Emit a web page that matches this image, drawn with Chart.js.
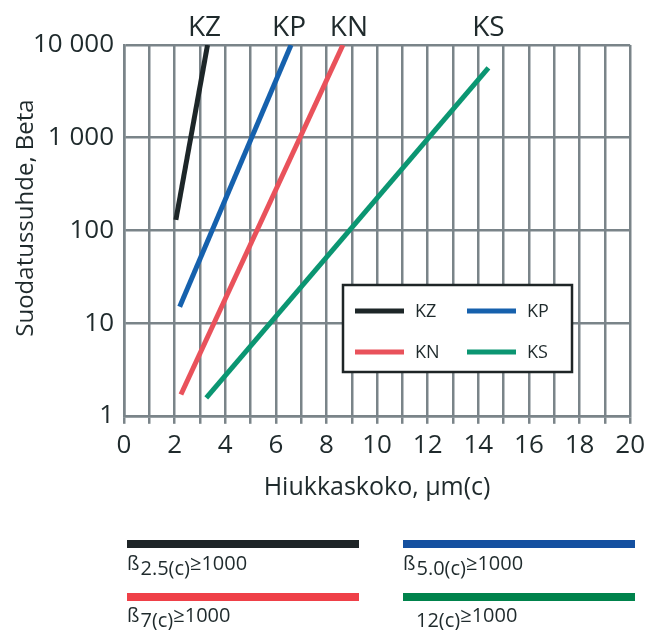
<!DOCTYPE html>
<html>
<head>
<meta charset="utf-8">
<script src="https://cdn.jsdelivr.net/npm/chart.js@4/dist/chart.umd.min.js"></script>
<style>
  html, body { margin: 0; padding: 0; background: #ffffff; }
  #wrap { width: 651px; height: 630px; position: relative; }
</style>
</head>
<body>
<div id="wrap"><canvas id="c" width="651" height="630"></canvas></div>
<script>
// Filter grades: beta ratio versus particle size (end points of each straight line on log scale)
const seriesNames = ['KZ', 'KP', 'KN', 'KS'];
const sizeKZ = [2.05, 3.3];
const betaKZ = [130, 10000];
const sizeKP = [2.2, 6.6];
const betaKP = [15, 10000];
const sizeKN = [2.25, 8.65];
const betaKN = [1.7, 10000];
const sizeKS = [3.25, 14.4];
const betaKS = [1.56, 5650];

const lineColors = ['#1d2628', '#1661ad', '#e9525b', '#0b9672'];
const keyColors = ['#1e2527', '#1450a0', '#ef4048', '#00834c'];

const yTickValues = [1, 10, 100, 1000, 10000];
const yTickLabels = ['1', '10', '100', '1 000', '10 000'];
const xMin = 0, xMax = 20;

const xTitle = 'Hiukkaskoko, µm(c)';
const yTitle = 'Suodatussuhde, Beta';

// Rating key shown under the chart: [prefix, subscript, suffix]
const ratingText = [
  ['ß', '2.5(c)', '≥1000'],
  ['ß', '5.0(c)', '≥1000'],
  ['ß', '7(c)', '≥1000'],
  ['', '12(c)', '≥1000']
];

const FONT = '"Open Sans", "Noto Sans", sans-serif';
const TEXT = '#1f2a2c';
const GRID = '#7a8489';

const sizes = [sizeKZ, sizeKP, sizeKN, sizeKS];
const betas = [betaKZ, betaKP, betaKN, betaKS];

const datasets = seriesNames.map((name, i) => ({
  label: name,
  data: sizes[i].map((x, j) => ({ x: x, y: betas[i][j] })),
  showLine: true,
  borderColor: lineColors[i],
  backgroundColor: lineColors[i],
  borderWidth: 5,
  borderCapStyle: 'butt',
  pointRadius: 0,
  pointHoverRadius: 0,
  fill: false
}));

// small horizontal nudges for the series names written above the lines
const nameNudge = [-3, -2, 6, 0];

// Series names above the upper end of each line, the in-plot legend box, the y title and the rating key
const annotations = {
  id: 'annotations',
  afterDatasetsDraw(chart) {
    const ctx = chart.ctx;
    ctx.save();
    ctx.font = '28px ' + FONT;
    ctx.fillStyle = TEXT;
    ctx.textAlign = 'center';
    ctx.textBaseline = 'middle';
    chart.data.datasets.forEach((ds, i) => {
      const meta = chart.getDatasetMeta(i);
      const last = meta.data[meta.data.length - 1];
      ctx.fillText(ds.label, last.x + nameNudge[i], 28);
    });

    // legend box
    const bx = 343, by = 285, bw = 229, bh = 87;
    ctx.fillStyle = '#ffffff';
    ctx.fillRect(bx, by, bw, bh);
    ctx.lineWidth = 2.5;
    ctx.strokeStyle = '#1e2526';
    ctx.strokeRect(bx, by, bw, bh);
    const cols = [355, 467];
    const rows = [311, 352];
    ctx.font = '18px ' + FONT;
    ctx.textAlign = 'left';
    ctx.textBaseline = 'middle';
    chart.data.datasets.forEach((ds, i) => {
      const cx = cols[i % 2], cy = rows[Math.floor(i / 2)];
      ctx.strokeStyle = ds.borderColor;
      ctx.lineWidth = 5;
      ctx.lineCap = 'butt';
      ctx.beginPath();
      ctx.moveTo(cx, cy);
      ctx.lineTo(cx + 49, cy);
      ctx.stroke();
      ctx.fillStyle = TEXT;
      ctx.fillText(ds.label, cx + 60, cy + 1);
    });
    ctx.restore();
  },
  afterDraw(chart) {
    const ctx = chart.ctx;
    ctx.save();
    // y axis title
    ctx.font = '24px ' + FONT;
    ctx.fillStyle = TEXT;
    ctx.textAlign = 'center';
    ctx.textBaseline = 'middle';
    ctx.translate(26, 218);
    ctx.rotate(-Math.PI / 2);
    ctx.fillText(yTitle, 0, 0);
    ctx.restore();

    ctx.save();
    const kx = [127, 403];
    const barY = [540, 593];
    const base = [570, 622];
    ctx.font = '20px ' + FONT;
    ctx.textBaseline = 'alphabetic';
    ctx.textAlign = 'left';
    ratingText.forEach((t, i) => {
      const x0 = kx[i % 2];
      const r = Math.floor(i / 2);
      ctx.fillStyle = keyColors[i];
      ctx.fillRect(x0, barY[r], 232, 8);
      ctx.fillStyle = TEXT;
      let x = x0;
      if (t[0]) {
        ctx.fillText(t[0], x, base[r]);
        x += ctx.measureText(t[0]).width + 1;
      } else {
        x += 13;
      }
      ctx.fillText(t[1], x, base[r] + 5);
      x += ctx.measureText(t[1]).width;
      ctx.fillText(t[2], x, base[r]);
    });
    ctx.restore();
  }
};

new Chart(document.getElementById('c'), {
  type: 'scatter',
  data: { datasets: datasets },
  options: {
    responsive: false,
    animation: false,
    devicePixelRatio: 1,
    layout: { padding: { top: 45, right: 18, bottom: 121, left: 0 } },
    plugins: {
      legend: { display: false },
      tooltip: { enabled: false }
    },
    scales: {
      x: {
        type: 'linear',
        min: xMin,
        max: xMax,
        grid: { color: GRID, lineWidth: 2.5, tickLength: 8, tickColor: GRID, tickWidth: 2.5 },
        border: { display: true, color: GRID, width: 2.5 },
        ticks: {
          stepSize: 1,
          autoSkip: false,
          maxRotation: 0,
          padding: 6,
          color: TEXT,
          font: { family: FONT, size: 26 },
          callback: (v) => (v % 2 === 0 ? String(v) : '')
        },
        title: {
          display: true,
          text: xTitle,
          color: TEXT,
          font: { family: FONT, size: 25 },
          padding: { top: 6, bottom: 6 }
        }
      },
      y: {
        type: 'logarithmic',
        min: 1,
        max: 10000,
        afterBuildTicks: (scale) => { scale.ticks = yTickValues.map(v => ({ value: v })); },
        afterFit: (scale) => { scale.width = 124; },
        grid: { color: GRID, lineWidth: 2.5, drawTicks: false },
        border: { display: true, color: GRID, width: 2.5 },
        ticks: {
          padding: 10,
          color: TEXT,
          font: { family: FONT, size: 26 },
          callback: (v) => {
            const k = yTickValues.indexOf(v);
            return k >= 0 ? yTickLabels[k] : '';
          }
        },
        title: { display: false }
      }
    }
  },
  plugins: [annotations]
});
</script>
</body>
</html>
